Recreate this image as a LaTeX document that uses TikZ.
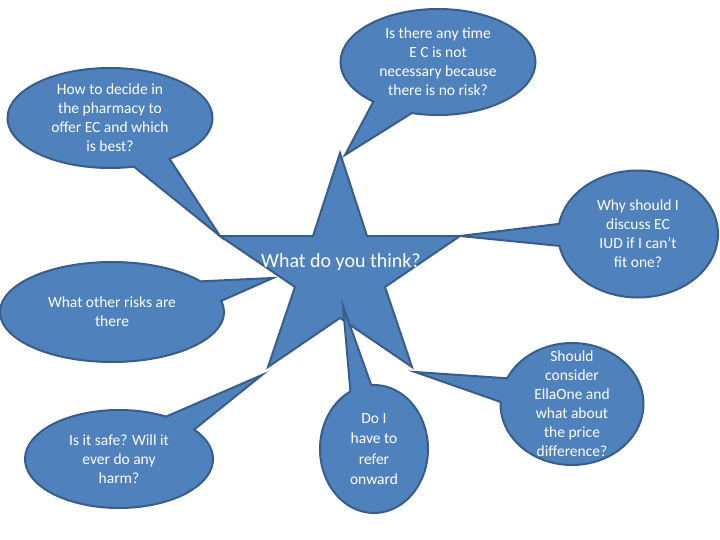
\documentclass[tikz,border=0pt]{standalone}
\usepackage{fontspec}
\setmainfont{Carlito}
\usetikzlibrary{shapes.callouts}
\definecolor{fillblue}{HTML}{4F81BD}
\definecolor{edgeblue}{HTML}{385D8A}

\begin{document}
\begin{tikzpicture}[
  x=1pt, y=-1pt,
  bubble/.style={ellipse callout, draw=edgeblue, fill=fillblue, line width=2pt, inner sep=-20pt,
    callout pointer arc=22, align=center, text=white, font=\fontsize{15.5}{19}\selectfont},
  burst/.style={draw=edgeblue, fill=fillblue, line width=2pt},
  centre/.style={text=white, font=\fontsize{20}{24}\selectfont}
]
\useasboundingbox (0,0) rectangle (720,540);

% star corners
\coordinate (top)     at (340,153);
\coordinate (innerTR) at (367,236);
\coordinate (armR)    at (460,236);
\coordinate (innerR)  at (385,287);
\coordinate (footR)   at (412,367);
\coordinate (innerB)  at (340,318);
\coordinate (footL)   at (268,367);
\coordinate (innerL)  at (295,287);
\coordinate (armL)    at (220,236);
\coordinate (innerTL) at (313,236);

% where the pointers end
\coordinate (tipTop)   at (345,155);
\coordinate (tipRisk)  at (273,278);
\coordinate (tipSafe)  at (262,375);
\coordinate (tipRefer) at (343,306);
\coordinate (tipPrice) at (415,372);

\draw[burst] (top) -- (innerTR) -- (armR) -- (innerR) -- (footR) -- (innerB)
  -- (footL) -- (innerL) -- (armL) -- (innerTL) -- cycle;
\node[centre] (think) at (341,262) {What do you think?};

\node[bubble, minimum width=205pt, minimum height=100pt, callout absolute pointer=(armL)]
  (howto) at (110,118) {How to decide in\\the pharmacy to\\offer EC and which\\is best?};
\node[bubble, minimum width=195pt, minimum height=106pt, callout pointer arc=26, callout absolute pointer=(tipTop)]
  (anytime) at (438,62) {Is there any time\\E C is not\\necessary because\\there is no risk?};
\node[bubble, minimum width=160pt, minimum height=127pt, callout pointer arc=20, callout absolute pointer=(armR)]
  (whyiud) at (638,234) {Why should I\\discuss EC\\IUD if I can’t\\fit one?};
\node[bubble, minimum width=224pt, minimum height=100pt, callout pointer arc=25, callout absolute pointer=(tipRisk)]
  (risks) at (112,312) {What other risks are\\there};
\node[bubble, minimum width=188pt, minimum height=98pt, callout pointer arc=23, callout absolute pointer=(tipSafe)]
  (safe) at (119,459) {Is it safe? Will it\\ever do any\\harm?};
\node[bubble, minimum width=108pt, minimum height=128pt, callout pointer arc=23, callout absolute pointer=(tipRefer),
  font=\fontsize{15.5}{20.5}\selectfont]
  (refer) at (374,449) {Do I\\have to\\refer\\onward};
\node[bubble, minimum width=143pt, minimum height=122pt, callout pointer arc=23, callout absolute pointer=(tipPrice)]
  (price) at (572,404) {Should\\consider\\EllaOne and\\what about\\the price\\difference?};
\end{tikzpicture}
\end{document}
